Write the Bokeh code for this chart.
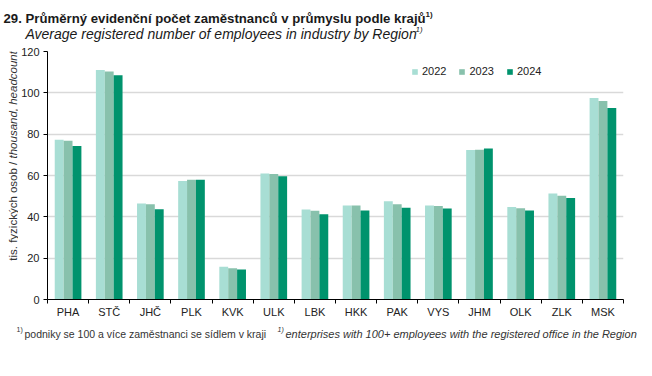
import numpy as np
from bokeh.plotting import figure
from bokeh.layouts import column, row
from bokeh.models import (ColumnDataSource, FixedTicker, Label, Legend, LegendItem, Range1d)
from bokeh.transform import dodge
from bokeh.embed import file_html
from bokeh.resources import INLINE

regions = ["PHA", "STČ", "JHČ", "PLK", "KVK", "ULK", "LBK", "HKK", "PAK", "VYS", "JHM", "OLK", "ZLK", "MSK"]
v2022 = [77.3, 111.1, 46.5, 57.3, 15.8, 61.0, 43.6, 45.5, 47.6, 45.5, 72.3, 44.8, 51.3, 97.5]
v2023 = [76.8, 110.3, 46.1, 57.9, 15.1, 60.7, 42.9, 45.5, 46.1, 45.2, 72.5, 44.2, 50.2, 96.1]
v2024 = [74.3, 108.5, 43.7, 57.9, 14.5, 59.6, 41.3, 43.1, 44.4, 44.0, 73.1, 43.1, 49.1, 92.7]
years = ["2022", "2023", "2024"]
colors = ["#a8ded4", "#88c1ac", "#00936d"]
y_ticks = [0, 20, 40, 60, 80, 100, 120]

FONT = "Liberation Sans"
TOP_H = 45
MAIN_H = 280
BOT_H = 376 - TOP_H - MAIN_H
LEFT_W = 18


def blank(width, height):
    f = figure(width=width, height=height, output_backend="svg", toolbar_location=None,
               x_range=Range1d(0, 1), y_range=Range1d(0, 1),
               min_border=0, min_border_left=0, min_border_right=0,
               min_border_top=0, min_border_bottom=0)
    f.axis.visible = False
    f.grid.visible = False
    f.outline_line_color = None
    return f


def lab(fig, fig_left, fig_top, fig_h, text, cx, cy, size, style="normal", align="left",
        angle=0, baseline="alphabetic", color="#1a1a1a"):
    fig.add_layout(Label(x=cx - fig_left, y=fig_top + fig_h - cy, x_units="screen", y_units="screen",
                         text=text, text_font=FONT, text_font_size=size, text_font_style=style,
                         text_align=align, text_baseline=baseline, angle=angle, text_color=color))


# ---- main chart ----
idx = np.arange(len(regions))
src = ColumnDataSource(dict(x=idx, v2022=v2022, v2023=v2023, v2024=v2024))

p = figure(width=652 - LEFT_W, height=MAIN_H, output_backend="svg", toolbar_location=None,
           x_range=Range1d(-0.5, len(regions) - 0.5), y_range=Range1d(0, 120),
           min_border_left=47 - LEFT_W, min_border_right=29, min_border_top=51 - TOP_H,
           min_border_bottom=TOP_H + MAIN_H - 299)
p.outline_line_color = None

w = 0.216
renderers = []
for k, (yr, col) in enumerate(zip(years, colors)):
    r = p.vbar(x=dodge("x", (k - 1) * w), top="v" + yr, width=w, bottom=0,
               source=src, fill_color=col, line_color=None)
    renderers.append(r)

p.xaxis.ticker = FixedTicker(ticks=list(idx), minor_ticks=list(np.arange(-0.5, len(regions), 1.0)))
p.xaxis.major_label_overrides = {int(i): r for i, r in zip(idx, regions)}
p.xaxis.major_tick_line_color = None
p.xaxis.minor_tick_line_color = "black"
p.xaxis.minor_tick_out = 4
p.xaxis.minor_tick_in = 0
p.xaxis.axis_line_color = "black"
p.xaxis.major_label_standoff = 0
p.xaxis.major_label_text_font = FONT
p.xaxis.major_label_text_font_size = "11px"
p.xaxis.major_label_text_color = "#222222"

p.yaxis.ticker = FixedTicker(ticks=y_ticks)
p.yaxis.major_tick_out = 4
p.yaxis.major_tick_in = 0
p.yaxis.minor_tick_line_color = None
p.yaxis.axis_line_color = "black"
p.yaxis.major_label_text_font = FONT
p.yaxis.major_label_text_font_size = "11px"
p.yaxis.major_label_text_color = "#222222"
p.yaxis.major_label_standoff = 4

p.xgrid.grid_line_color = None
p.ygrid.grid_line_color = "#d9d9d9"
p.ygrid.grid_line_width = 1.5
p.ygrid.ticker = FixedTicker(ticks=y_ticks)

legend = Legend(items=[LegendItem(label=yr, renderers=[r]) for yr, r in zip(years, renderers)],
                orientation="horizontal", location=(364, 222),
                glyph_width=7, glyph_height=7, label_standoff=4, spacing=12,
                padding=0, margin=0, border_line_color=None, background_fill_alpha=0,
                label_text_font=FONT, label_text_font_size="11px", label_text_color="#222222")
p.add_layout(legend, "center")

# ---- title strip ----
top = blank(652, TOP_H)
lab(top, 0, 0, TOP_H, "29. Průměrný evidenční počet zaměstnanců v průmyslu podle krajů", 3, 18, "13.2px", "bold")
lab(top, 0, 0, TOP_H, "1)", 425, 14, "8px", "bold")
lab(top, 0, 0, TOP_H, "Average registered number of employees in industry by Region", 25, 33, "14px", "italic")
lab(top, 0, 0, TOP_H, "1)", 415, 29, "8px", "italic")

# ---- y label strip ----
left = blank(LEFT_W, MAIN_H)
lab(left, 0, TOP_H, MAIN_H, "tis. fyzických osob / ", 12, 184, "11.5px", "normal", "right", np.pi / 2, "middle", "#333333")
lab(left, 0, TOP_H, MAIN_H, "thousand, headcount", 12, 184, "11.5px", "italic", "left", np.pi / 2, "middle", "#333333")

# ---- footnote strip ----
bot = blank(652, BOT_H)
bt = TOP_H + MAIN_H
lab(bot, 0, bt, BOT_H, "1)", 16, 329, "7px", "normal", color="#333333")
lab(bot, 0, bt, BOT_H, "podniky se 100 a více zaměstnanci  se sídlem v kraji", 24, 333, "10.5px", "normal", color="#333333")
lab(bot, 0, bt, BOT_H, "1)", 277, 329, "7px", "italic", color="#333333")
lab(bot, 0, bt, BOT_H, "enterprises with 100+ employees with the registered office in the Region", 285, 333, "11px", "italic", color="#333333")

layout = column(top, row(left, p, spacing=0), bot, spacing=0)
open("out.html", "w").write(file_html(layout, INLINE))
